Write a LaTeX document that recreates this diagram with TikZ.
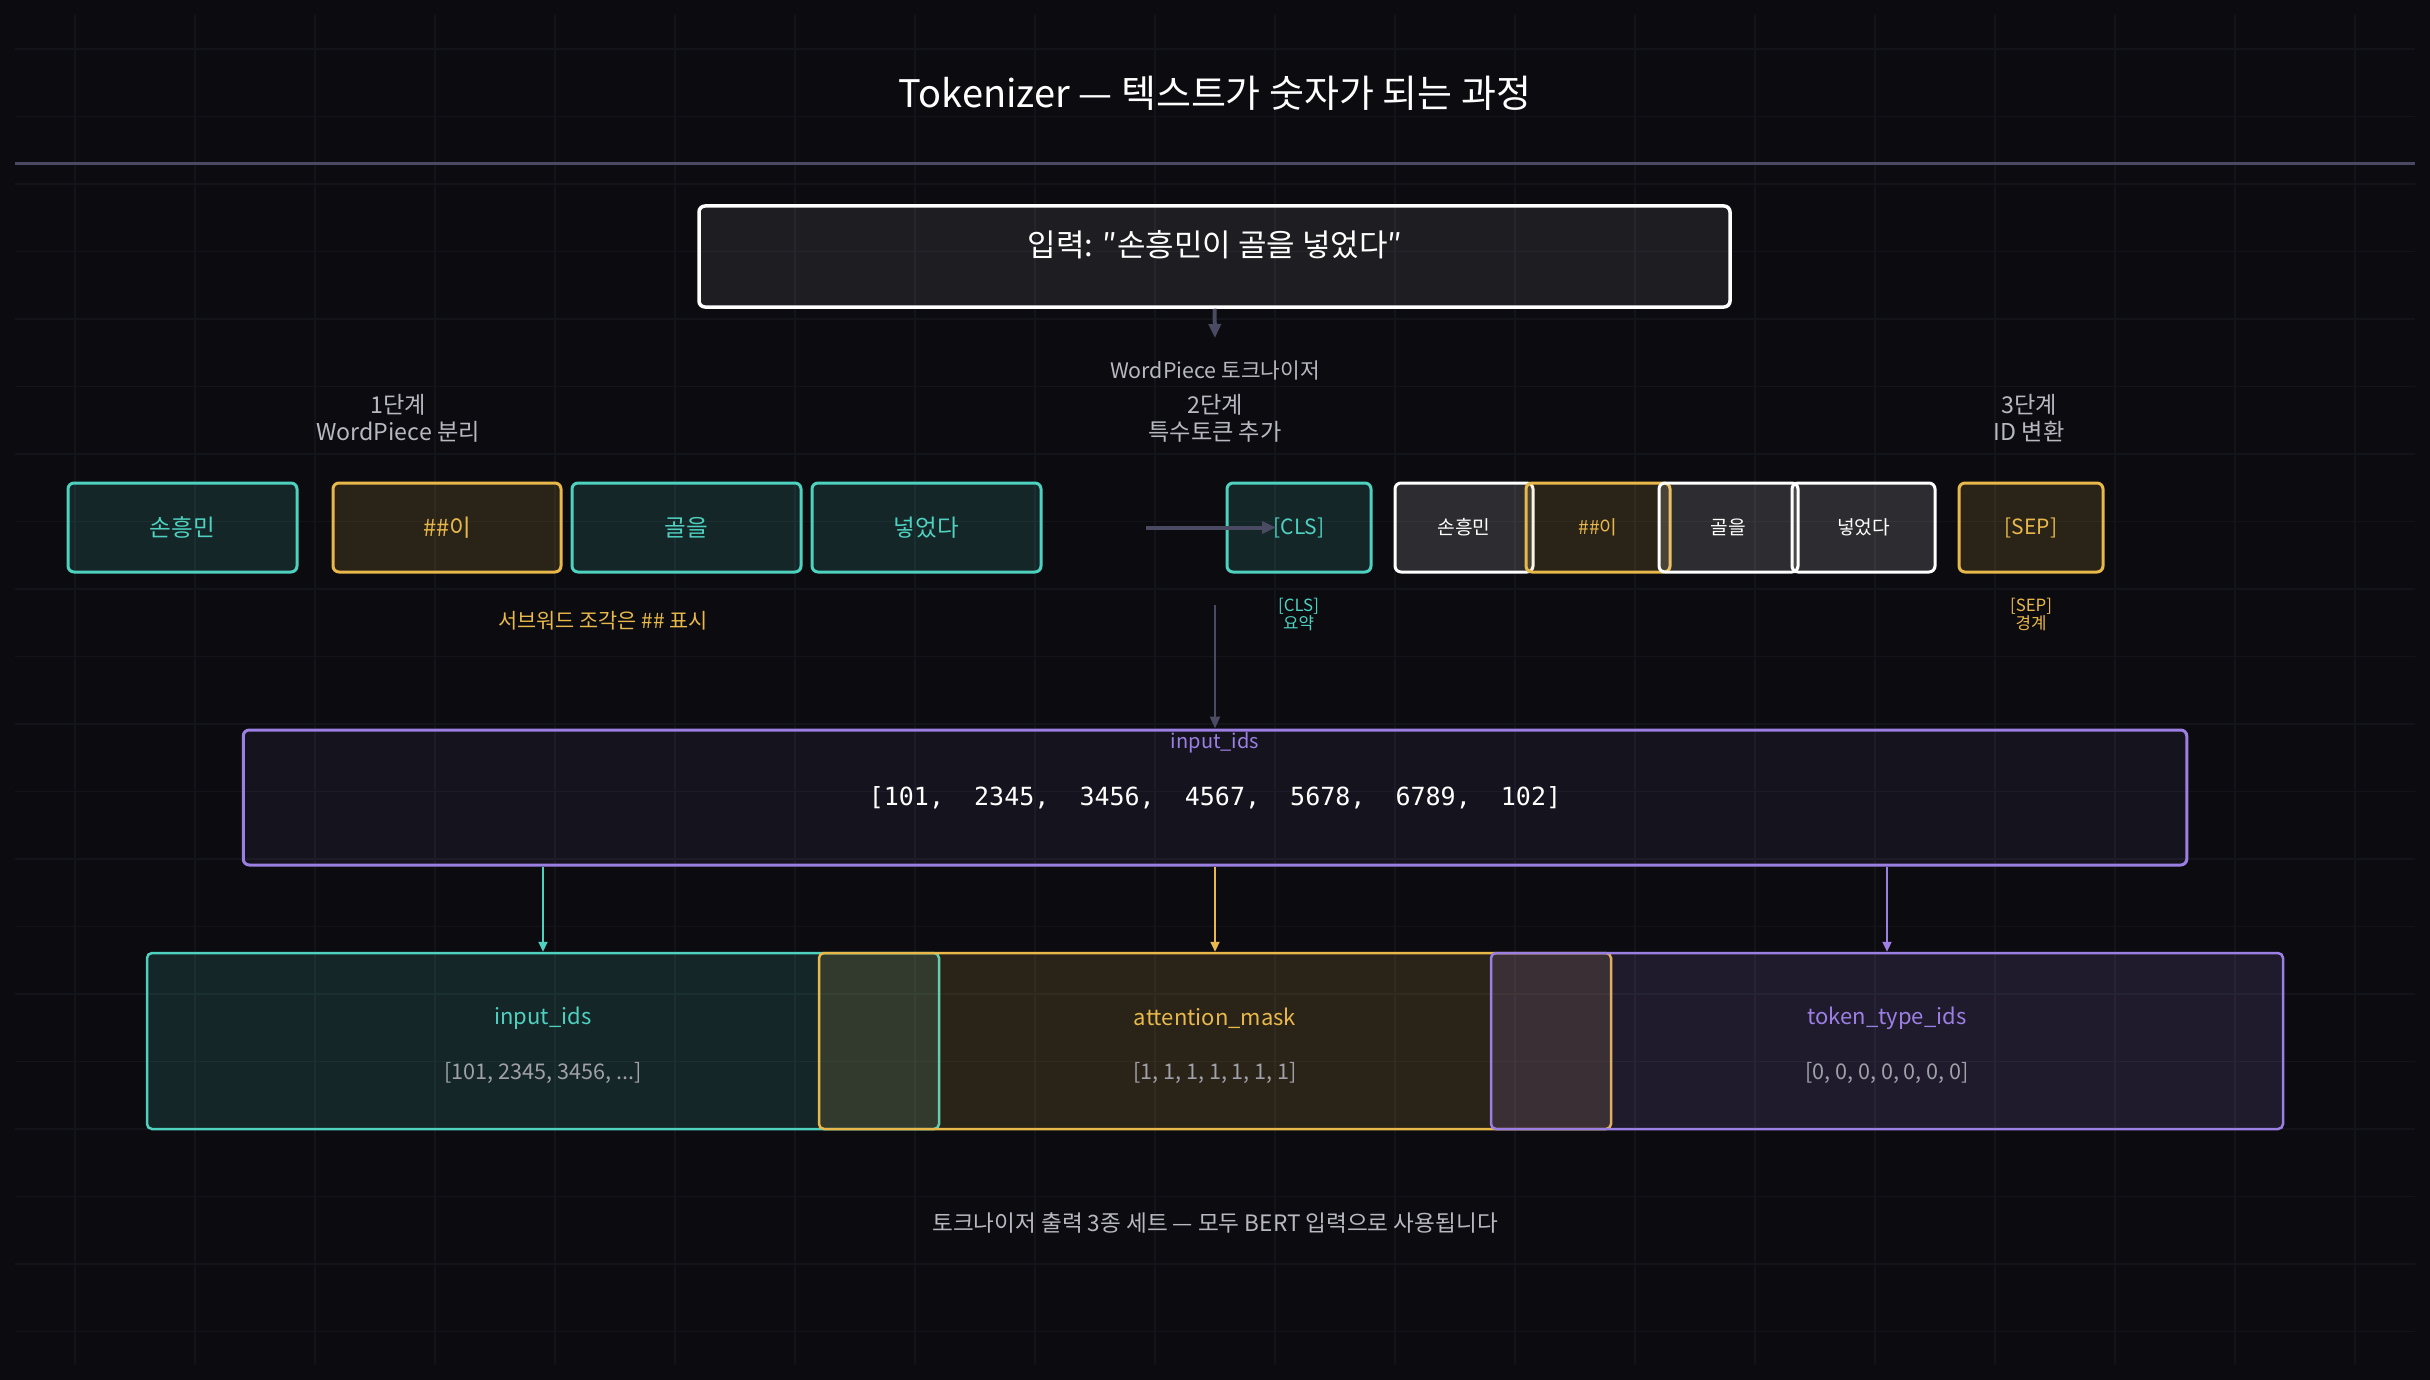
\documentclass[tikz,border=0pt]{standalone}
\usepackage{fontspec}
\setmainfont{Noto Sans CJK KR}
\newfontfamily\codefont{DejaVu Sans Mono}
\usetikzlibrary{arrows.meta}
\definecolor{bgc}{HTML}{0B0B10}
\definecolor{gridc}{HTML}{131419}
\definecolor{sepc}{HTML}{4A4862}
\definecolor{cteal}{HTML}{4FD1C0}
\definecolor{cgold}{HTML}{E8B84A}
\definecolor{cpurp}{HTML}{9C7FE3}
\definecolor{ctext}{HTML}{B8B8C0}
\definecolor{cval}{HTML}{A0A0A8}
\definecolor{carrow}{HTML}{4A4A62}
\tikzset{
  tok/.style={draw=#1, fill=#1, fill opacity=0.14, text opacity=1, text=#1,
    line width=1.5pt, rounded corners=3pt, inner sep=0pt,
    minimum height=44.5pt, font=\fontsize{11.8}{14}\selectfont},
  rtok/.style={draw=#1, fill=#1, fill opacity=0.14, text opacity=1, text=#1,
    line width=1.5pt, rounded corners=3pt, inner sep=0pt,
    minimum height=44.5pt, font=\fontsize{9.6}{11}\selectfont},
  outbox/.style={draw=#1, fill=#1, fill opacity=0.14, line width=1.25pt,
    rounded corners=2.5pt, inner sep=0pt, minimum width=396pt, minimum height=88pt},
  lbl/.style={text=ctext, font=\fontsize{10.7}{12}\selectfont},
  stagelbl/.style={text=ctext, align=center, font=\fontsize{11.6}{13.5}\selectfont},
  smallcap/.style={text=#1, align=center, font=\fontsize{8.4}{9}\selectfont},
  darrow/.style={carrow, line width=2pt, -{Triangle[length=7pt,width=6pt]}},
  carr/.style={#1, line width=1pt, -{Triangle[length=5pt,width=4.5pt]}}
}
\begin{document}
\begin{tikzpicture}[x=0.5pt,y=-0.5pt]
\useasboundingbox (0,0) rectangle (2430,1380);
\fill[bgc] (0,0) rectangle (2430,1380);
% grid
\foreach \i in {0,...,19} {
  \draw[gridc, line width=0.6pt] ({75+120*\i},15) -- ({75+120*\i},1365);
  \draw[gridc, line width=0.6pt] (15,{49+67.5*\i}) -- (2415,{49+67.5*\i});
}
% separator
\draw[sepc, line width=1.5pt] (15,164) -- (2415,164);
% title
\node[text=white, font=\fontsize{19}{23}\selectfont] (title) at (1215,93) {Tokenizer — 텍스트가 숫자가 되는 과정};
% input box
\node[draw=white, line width=1.75pt, rounded corners=3pt, fill=white, fill opacity=0.08,
  minimum width=515.5pt, minimum height=50.5pt] (inbox) at (1214.5,256.5) {};
\node[text=white, font=\fontsize{15.5}{18}\selectfont] (intext) at (1215,245) {입력: ″손흥민이 골을 넣었다″};
\coordinate (a1) at (1215,338);
\draw[darrow] (inbox.south) -- (a1);
\node[lbl] (wp) at (1215,370) {WordPiece 토크나이저};
% stage labels
\node[stagelbl] (s1) at (398,418) {1단계\\WordPiece 분리};
\node[stagelbl] (s2) at (1215,418) {2단계\\특수토큰 추가};
\node[stagelbl] (s3) at (2029,418) {3단계\\ID 변환};
% left tokens
\node[tok=cteal, minimum width=114.5pt] (t1) at (182.5,527.5) {손흥민};
\node[tok=cgold, minimum width=114pt] (t2) at (447,527.5) {\#\#이};
\node[tok=cteal, minimum width=114.5pt] (t3) at (686.5,527.5) {골을};
\node[tok=cteal, minimum width=114.5pt] (t4) at (926.5,527.5) {넣었다};
\node[text=cgold, font=\fontsize{10.4}{12}\selectfont] (cap1) at (603,621) {서브워드 조각은 \#\# 표시};
% right tokens
\node[rtok=cteal, minimum width=72pt, font=\fontsize{10.5}{12}\selectfont] (cls) at (1299,527.5) {[CLS]};
\node[rtok=white, minimum width=69pt] (r1) at (1464,527.5) {손흥민};
\node[rtok=cgold, minimum width=72pt] (r2) at (1598,527.5) {\#\#이};
\node[rtok=white, minimum width=69.5pt] (r3) at (1728.5,527.5) {골을};
\node[rtok=white, minimum width=71.5pt] (r4) at (1863.5,527.5) {넣었다};
\node[rtok=cgold, minimum width=72pt, font=\fontsize{10.5}{12}\selectfont] (sep) at (2031,527.5) {[SEP]};
\coordinate (b0) at (1146,527.5);
\coordinate (b1) at (1276,527.5);
\draw[darrow] (b0) -- (b1);
\node[smallcap=cteal] (ccls) at (1298.5,614) {[CLS]\\요약};
\node[smallcap=cgold] (csep) at (2031,614) {[SEP]\\경계};
% middle box
\node[draw=cpurp, line width=1.5pt, rounded corners=3pt, fill=cpurp, fill opacity=0.07,
  minimum width=971.75pt, minimum height=67.5pt] (mid) at (1215,797.5) {};
\coordinate (v0) at (1215,605);
\draw[carrow, line width=1.2pt, -{Triangle[length=6pt,width=5pt]}] (v0) -- (mid.north);
\node[text=cpurp, font=\fontsize{10}{12}\selectfont] (midlbl) at (1215,743) {input\_ids};
\node[text=white, font=\codefont\fontsize{12.5}{15}\selectfont] (midval) at (1215,798) {[101,~~2345,~~3456,~~4567,~~5678,~~6789,~~102]};
% output boxes
\node[outbox=cteal] (o1) at (543,1041) {};
\node[outbox=cgold] (o2) at (1215,1041) {};
\node[outbox=cpurp] (o3) at (1887,1041) {};
\draw[carr=cteal] (mid.south -| o1.north) -- (o1.north);
\draw[carr=cgold] (mid.south -| o2.north) -- (o2.north);
\draw[carr=cpurp] (mid.south -| o3.north) -- (o3.north);
\node[text=cteal, font=\fontsize{11}{13}\selectfont] (o1t) at (543,1018) {input\_ids};
\node[text=cval, font=\fontsize{10.8}{12}\selectfont] (o1v) at (543,1073) {[101, 2345, 3456, ...]};
\node[text=cgold, font=\fontsize{11}{13}\selectfont] (o2t) at (1215,1018) {attention\_mask};
\node[text=cval, font=\fontsize{10.8}{12}\selectfont] (o2v) at (1215,1073) {[1, 1, 1, 1, 1, 1, 1]};
\node[text=cpurp, font=\fontsize{11}{13}\selectfont] (o3t) at (1887,1018) {token\_type\_ids};
\node[text=cval, font=\fontsize{10.8}{12}\selectfont] (o3v) at (1887,1073) {[0, 0, 0, 0, 0, 0, 0]};
% footer
\node[text=ctext, font=\fontsize{11.3}{13}\selectfont] (foot) at (1215,1223) {토크나이저 출력 3종 세트 — 모두 BERT 입력으로 사용됩니다};
\end{tikzpicture}
\end{document}
